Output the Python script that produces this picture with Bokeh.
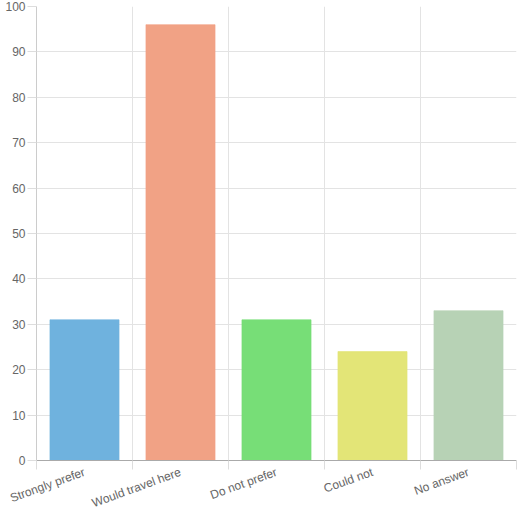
import math
from bokeh.plotting import figure
from bokeh.models import FixedTicker, Range1d
from bokeh.embed import file_html
from bokeh.resources import INLINE

categories = ["Strongly prefer", "Would travel here", "Do not prefer", "Could not", "No answer"]
values = [31, 96, 31, 24, 33]
colors = ["#6fb2de", "#f1a285", "#77de77", "#e3e577", "#b7d2b5"]
y_ticks = [0, 10, 20, 30, 40, 50, 60, 70, 80, 90, 100]

xs = [i + 0.5 for i in range(len(categories))]

p = figure(width=519, height=519, output_backend="svg", toolbar_location=None,
           x_range=Range1d(0, len(categories)), y_range=Range1d(0, 100),
           min_border_left=36, min_border_right=3, min_border_top=6, min_border_bottom=58)
p.outline_line_color = None
p.background_fill_color = "white"

p.vbar(x=xs, top=values, width=0.72, bottom=0, fill_color=colors, line_color=colors,
       line_alpha=0.6, line_width=1)

# x axis
xt = FixedTicker(ticks=xs, minor_ticks=list(range(len(categories) + 1)))
p.xaxis.ticker = xt
p.xaxis.major_label_overrides = {x: c for x, c in zip(xs, categories)}
p.xaxis.major_label_orientation = 20 * math.pi / 180
p.xaxis.major_tick_out = 0
p.xaxis.major_tick_in = 0
p.xaxis.minor_tick_out = 9
p.xaxis.minor_tick_in = 0
p.xaxis.minor_tick_line_color = "#dddddd"
p.xaxis.axis_line_color = "#aaaaaa"
p.xaxis.major_label_text_font = "Liberation Sans"
p.xaxis.major_label_text_font_size = "12px"
p.xaxis.major_label_text_color = "#666666"
p.xaxis.major_label_standoff = 2
p.xgrid.grid_line_color = None
p.xgrid.minor_grid_line_color = "#e3e3e3"

# y axis
p.yaxis.ticker = FixedTicker(ticks=y_ticks)
p.yaxis.major_tick_out = 9
p.yaxis.major_tick_in = 0
p.yaxis.minor_tick_line_color = None
p.yaxis.major_tick_line_color = "#dddddd"
p.yaxis.axis_line_color = "#cccccc"
p.yaxis.major_label_text_font = "Liberation Sans"
p.yaxis.major_label_text_font_size = "12px"
p.yaxis.major_label_text_color = "#666666"
p.yaxis.major_label_standoff = 2
p.ygrid.grid_line_color = "#e3e3e3"

open("out.html", "w").write(file_html(p, INLINE))
